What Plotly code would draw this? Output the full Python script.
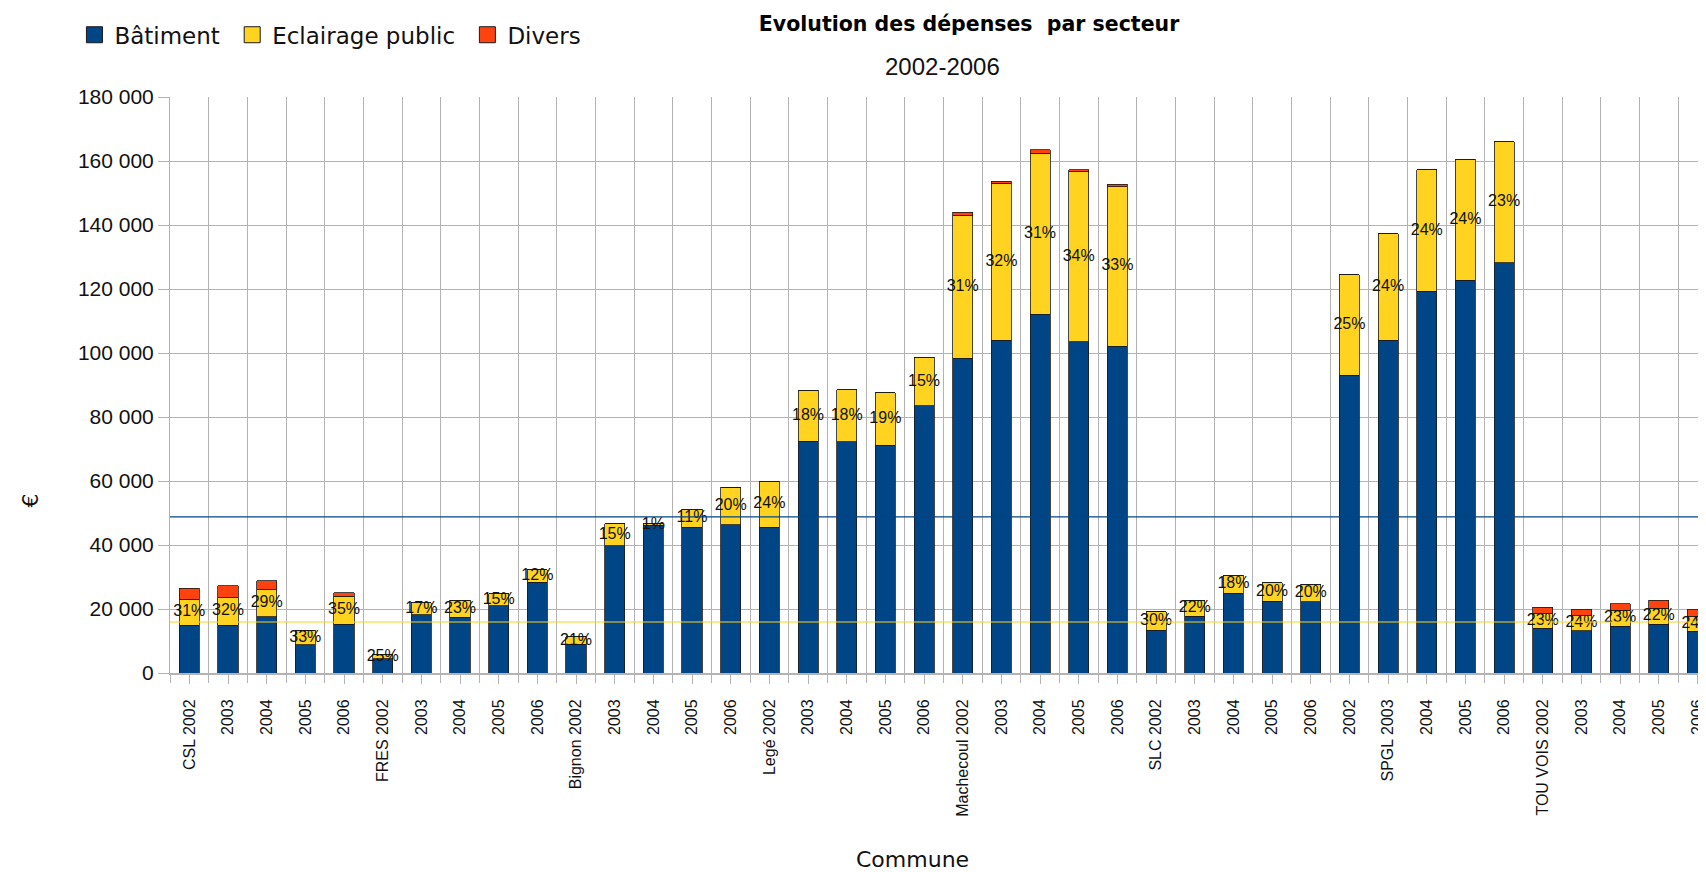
import plotly.graph_objects as go
import numpy as np

# ---------------- data ----------------
categories = ["CSL 2002", "2003", "2004", "2005", "2006",
              "FRES 2002", "2003", "2004", "2005", "2006",
              "Bignon 2002", "2003", "2004", "2005", "2006",
              "Legé 2002", "2003", "2004", "2005", "2006",
              "Machecoul 2002", "2003", "2004", "2005", "2006",
              "SLC 2002", "2003", "2004", "2005", "2006",
              "2002", "SPGL 2003", "2004", "2005", "2006",
              "TOU VOIS 2002", "2003", "2004", "2005", "2006"]

batiment = [14960, 14960, 17570, 8800, 15270,
            4400, 18180, 17470, 21000, 28400,
            8930, 39700, 46100, 45500, 46400,
            45500, 72500, 72300, 71200, 83500,
            98420, 104050, 112070, 103530, 102170,
            13400, 17800, 25000, 22500, 22200,
            93100, 104000, 119350, 122760, 128220,
            13960, 13130, 14590, 15200, 13000]

eclairage = [8160, 8570, 8370, 4350, 8790,
             1460, 3720, 5230, 3700, 3900,
             2370, 7000, 470, 5700, 11600,
             14400, 15900, 16200, 16400, 15100,
             44700, 48970, 50430, 53140, 49810,
             5700, 5000, 5500, 5650, 5600,
             31370, 33300, 37850, 37850, 37850,
             4690, 4790, 5000, 5000, 4800]

divers = [3340, 3670, 2830, 200, 1040,
          0, 0, 0, 0, 0,
          0, 0, 0, 0, 0,
          0, 0, 0, 0, 0,
          830, 730, 940, 620, 720,
          0, 0, 100, 100, 0,
          0, 0, 0, 0, 0,
          1880, 1980, 2080, 2600, 2200]

pourcentages = ["31%", "32%", "29%", "33%", "35%",
                "25%", "17%", "23%", "15%", "12%",
                "21%", "15%", "1%", "11%", "20%",
                "24%", "18%", "18%", "19%", "15%",
                "31%", "32%", "31%", "34%", "33%",
                "30%", "22%", "18%", "20%", "20%",
                "25%", "24%", "24%", "24%", "23%",
                "23%", "24%", "23%", "22%", "24%"]

y_ticks = [0, 20000, 40000, 60000, 80000, 100000, 120000, 140000, 160000, 180000]

# ---------------- styles ----------------
C_BAT = "#004586"
C_ECL = "#ffd320"
C_DIV = "#ff420e"
GRID = "#b3b3b3"

x = np.arange(len(categories))
bat = np.array(batiment, dtype=float)
ecl = np.array(eclairage, dtype=float)
dv = np.array(divers, dtype=float)

fig = go.Figure()
bar_line = dict(color="#1a1a1a", width=0.8)
for name, vals, col in [("Bâtiment", bat, C_BAT), ("Eclairage public", ecl, C_ECL), ("Divers", dv, C_DIV)]:
    fig.add_trace(go.Bar(x=x, y=vals, name=name, width=0.52,
                         marker=dict(color=col, line=bar_line), showlegend=False,
                         hoverinfo="skip"))

# percentage labels centered in the Eclairage segment
fig.add_trace(go.Scatter(x=x, y=bat + ecl / 2, mode="text", text=pourcentages,
                         textposition="middle center",
                         textfont=dict(family="Liberation Sans", size=16, color="#111111"),
                         showlegend=False, hoverinfo="skip", cliponaxis=False))

# legend entries (square markers)
for name, col in [("Bâtiment", C_BAT), ("Eclairage public", C_ECL), ("Divers", C_DIV)]:
    fig.add_trace(go.Scatter(x=[None], y=[None], mode="markers", name=name + "\u00a0",
                             marker=dict(symbol="square", size=18, color=col,
                                         line=dict(color="#1a1a1a", width=1))))

# average lines
fig.add_shape(type="line", xref="paper", x0=0, x1=1, yref="y",
              y0=float(bat.mean()), y1=float(bat.mean()),
              line=dict(color=C_BAT, width=1.2), layer="above")
fig.add_shape(type="line", xref="paper", x0=0, x1=1, yref="y",
              y0=float(ecl.mean()), y1=float(ecl.mean()),
              line=dict(color="rgba(255,211,32,0.5)", width=2), layer="above")

fig.update_layout(
    width=1698, height=864,
    margin=dict(l=162, r=0, t=89, b=199),
    paper_bgcolor="white", plot_bgcolor="white",
    barmode="stack",
    separators=", ",
    title=dict(text="Evolution des dépenses\u00a0 par secteur", xref="container", x=0.566,
               xanchor="center", yref="container", y=1 - 16 / 864, yanchor="middle",
               font=dict(family="DejaVu Sans", size=20.5, color="#000000", weight="bold")),
    legend=dict(orientation="h", x=-0.0625, xanchor="left", y=1.108, yanchor="middle",
                traceorder="normal",
                font=dict(family="DejaVu Sans", size=23, color="#111111"),
                itemsizing="trace", bgcolor="rgba(0,0,0,0)"),
    font=dict(family="Liberation Sans", color="#111111"),
    annotations=[
        dict(text="2002-2006", xref="paper", yref="paper", x=0.505, y=1.053,
             showarrow=False, xanchor="center", yanchor="middle",
             font=dict(family="Liberation Sans", size=24, color="#111111")),
        dict(text="Commune", xref="paper", yref="paper", x=0.4857, y=-0.324,
             showarrow=False, xanchor="center", yanchor="middle",
             font=dict(family="DejaVu Sans", size=22, color="#111111")),
        dict(text="€", xref="paper", yref="paper", x=-0.0915, y=0.2995, textangle=-90,
             showarrow=False, xanchor="center", yanchor="middle",
             font=dict(family="DejaVu Sans", size=22, color="#111111")),
    ],
)

fig.update_xaxes(
    range=[-0.5, 39.04], tickmode="array", tickvals=list(x), ticktext=categories,
    tickangle=-90, tickfont=dict(family="Liberation Sans", size=16, color="#111111"),
    ticks="outside", ticklen=9, tickcolor=GRID, tickwidth=1,
    ticklabeloverflow="allow", ticklabelstandoff=9,
    showgrid=False, zeroline=False,
    showline=True, linecolor=GRID, linewidth=2,
    minor=dict(tickmode="linear", tick0=0.5, dtick=1, ticks="outside", ticklen=8,
               tickcolor=GRID, showgrid=True, gridcolor=GRID, gridwidth=1),
)
fig.update_yaxes(
    range=[0, 180000], tickmode="array", tickvals=y_ticks, tickformat=",d",
    tickfont=dict(family="Liberation Sans", size=21, color="#111111"),
    ticks="outside", ticklen=11, tickcolor=GRID,
    showgrid=True, gridcolor=GRID, gridwidth=1, zeroline=False,
    showline=True, linecolor=GRID, linewidth=1,
)

fig.write_html("out.html")
